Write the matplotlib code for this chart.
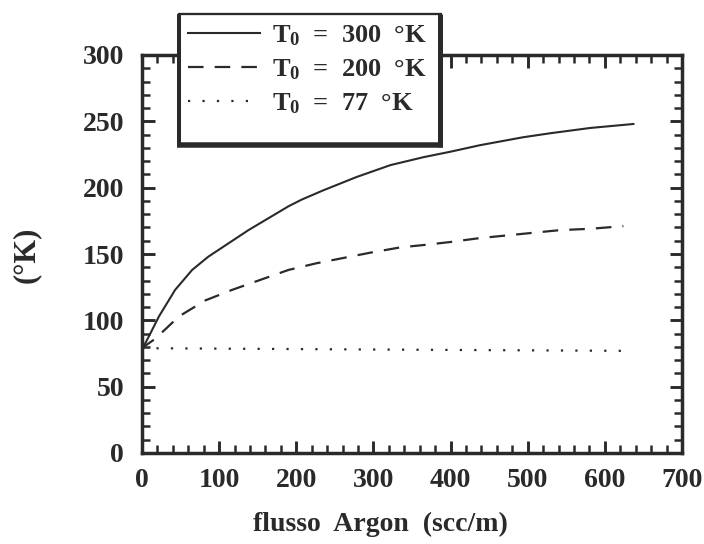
import matplotlib
matplotlib.use("Agg")
import matplotlib.pyplot as plt
from matplotlib.lines import Line2D
from matplotlib.ticker import MultipleLocator

plt.rcParams['font.family'] = ['Liberation Serif', 'DejaVu Serif']
plt.rcParams['font.weight'] = 'bold'
plt.rcParams['mathtext.fontset'] = 'custom'
plt.rcParams['mathtext.rm'] = 'Liberation Serif:bold'
plt.rcParams['mathtext.it'] = 'Liberation Serif:bold'

# Data
flow_300 = [0, 9, 22, 43, 65, 86, 112, 138, 164, 190, 207, 235, 278, 322, 365, 399,
            438, 494, 529, 581, 637]
temp_300 = [78, 88, 103, 123, 138, 148, 158, 168, 177, 186, 191, 198, 208, 217, 223,
            227, 232, 238, 241, 245, 248]

flow_200 = [0, 2, 17, 48, 82, 117, 151, 190, 226, 261, 296, 335, 369, 399, 438, 473,
            507, 542, 581, 624]
temp_200 = [78, 80, 86, 103, 115, 123, 130, 138, 143, 147, 151, 155, 157, 159, 162,
            164, 166, 168, 169, 171]

flow_77 = [0, 300, 626]
temp_77 = [79, 78, 77]

labels = ["T$_{\\mathrm{0}}$  =  300  °K", "T$_{\\mathrm{0}}$  =  200  °K",
          "T$_{\\mathrm{0}}$  =  77  °K"]

W, H = 704, 544
fig = plt.figure(figsize=(W / 100, H / 100), dpi=100)
ax = fig.add_axes([142 / W, 1 - 453 / H, 540 / W, 398 / H])

ink = "#2a2a2a"
l1, = ax.plot(flow_300, temp_300, color=ink, lw=1.5)
l2, = ax.plot(flow_200, temp_200, color=ink, lw=1.6, linestyle=(0, (7, 5)))
l3, = ax.plot(flow_77, temp_77, color=ink, lw=1.6, linestyle=(0, (1, 5.5)))

ax.set_xlim(0, 700)
ax.set_ylim(0, 300)
ax.xaxis.set_major_locator(MultipleLocator(100))
ax.xaxis.set_minor_locator(MultipleLocator(20))
ax.yaxis.set_major_locator(MultipleLocator(50))
ax.yaxis.set_minor_locator(MultipleLocator(10))
ax.tick_params(which="both", direction="in", top=True, right=True, color=ink)
ax.tick_params(which="major", length=9, width=2.1, labelsize=20, labelcolor=ink)
ax.tick_params(which="minor", length=6, width=1.8)
ax.tick_params(axis="y", pad=13)
ax.tick_params(axis="x", pad=11)
for s in ax.spines.values():
    s.set_linewidth(2.5)
    s.set_color(ink)

fig.text(380 / W, 1 - 524 / H, "flusso  Argon  (scc/m)", ha="center", va="center",
         fontsize=20, fontweight="bold", color=ink)
fig.text(26 / W, 1 - 255 / H, "(°K)", ha="center", va="center", rotation=90,
         fontsize=22, fontweight="bold", color=ink)

# legend box drawn by hand (white, thick shadow-like borders)
def px(x, y):
    return x / W, 1 - y / H

x0, x1, y0, y1 = 179, 440, 13.8, 145
fig.add_artist(plt.Rectangle(px(x0, y1), (x1 - x0) / W, (y1 - y0) / H,
                             transform=fig.transFigure, facecolor="white",
                             edgecolor="none", zorder=5))
for (xa, ya), (xb, yb), lw in [((x0 - 1, y0), (x1 + 2, y0), 2.3),
                               ((x0, y0), (x0, y1 + 2), 4.0),
                               ((x1, y0), (x1, y1 + 2), 5.0),
                               ((x0 - 2, y1), (x1 + 2.5, y1), 5.5)]:
    a, b = px(xa, ya), px(xb, yb)
    fig.add_artist(Line2D([a[0], b[0]], [a[1], b[1]], transform=fig.transFigure,
                          color=ink, lw=lw * 0.72, zorder=6,
                          solid_capstyle="butt"))

leg = fig.legend([l1, l2, l3], labels, loc="upper left", bbox_to_anchor=px(188, 23),
                 frameon=False, fontsize=19, handlelength=2.73, handletextpad=0.45,
                 labelspacing=0.37, borderpad=0, borderaxespad=0)
leg.set_zorder(7)
for t in leg.get_texts():
    t.set_color(ink)

fig.savefig("out.png", dpi=100)
